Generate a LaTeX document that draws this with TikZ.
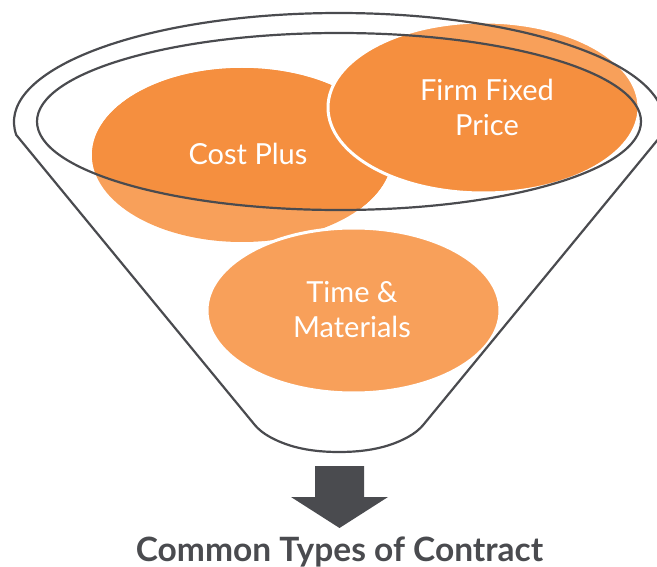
\documentclass[tikz,border=0pt]{standalone}
\usepackage{fontspec}
\setmainfont{Lato}
\definecolor{orD}{RGB}{245,143,63}
\definecolor{orL}{RGB}{248,160,90}
\definecolor{ink}{RGB}{74,75,79}
\begin{document}
\begin{tikzpicture}[x=1pt,y=-1pt,
  funnel/.style={draw=ink,line width=2.2pt,line join=round},
  blobL/.style={fill=orL},
  blobD/.style={fill=orD},
  gap/.style={draw=white,line width=3pt},
  lbl/.style={text=white,font=\fontsize{29}{35}\selectfont,align=center,inner sep=0pt},
  titletext/.style={text=ink,font=\bfseries\fontsize{33.5}{40}\selectfont,inner sep=0pt,anchor=base},
]
\useasboundingbox (0,0) rectangle (657,567);
% light layer
\fill[blobL] (242,155) ellipse [x radius=150, y radius=87];
\path[blobL,gap] (353.5,310.5) ellipse [x radius=146.5, y radius=82.5];
\path[blobL,gap] (483.5,107.5) ellipse [x radius=155.5, y radius=85.5];
% dark layer inside the rim
\begin{scope}
  \clip (339,121.5) ellipse [x radius=302, y radius=88.5];
  \fill[blobD] (242,155) ellipse [x radius=150, y radius=87];
  \path[blobD,gap] (483.5,107.5) ellipse [x radius=155.5, y radius=85.5];
\end{scope}
% funnel
\draw[funnel] (16.3,135) arc[start angle=173.15, end angle=366.85, x radius=325, y radius=109]
  -- (424,424) .. controls (419,430) and (415,433) .. (408,437)
  .. controls (388,448) and (365,452) .. (339,452)
  .. controls (313,452) and (290,448) .. (270,437)
  .. controls (263,433) and (259,430) .. (254,424) -- cycle;
\draw[funnel] (339,121.5) ellipse [x radius=302, y radius=88.5];
% labels
\node[lbl] (cp) at (248,154) {Cost Plus};
\node[lbl] (ffp) at (487,107.5) {Firm Fixed\\Price};
\node[lbl] (tm) at (352,309.5) {Time \&\\Materials};
% arrow
\fill[ink] (315,466) -- (364,466) -- (364,497) -- (388,497) -- (339.5,528) -- (291,497) -- (315,497) -- cycle;
\node[titletext] (title) at (339.5,561) {Common Types of Contract};
\end{tikzpicture}
\end{document}
